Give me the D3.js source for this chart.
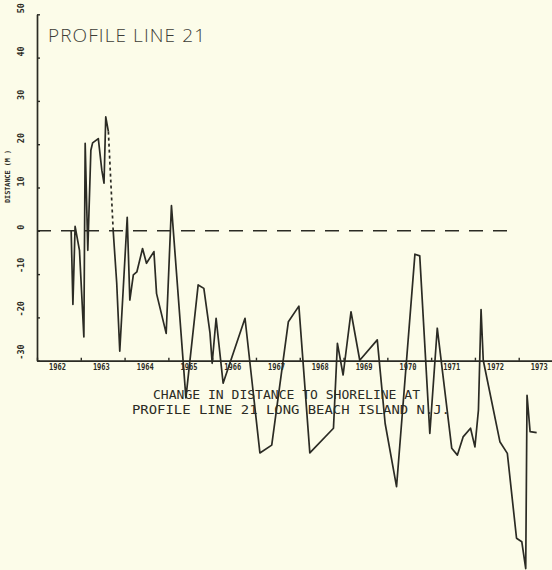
<!DOCTYPE html>
<html>
<head>
<meta charset="utf-8">
<script src="https://cdn.jsdelivr.net/npm/d3@7"></script>
<style>
  html, body { margin: 0; padding: 0; background: #fcfce9; }
  svg { display: block; }
</style>
</head>
<body>
<script>
var svgWidth = 552;
var svgHeight = 570;

// survey dates (decimal years) and change in distance to shoreline (m)
var years = [1962.78, 1962.82, 1962.87, 1962.97, 1963.07, 1963.10, 1963.16, 1963.23, 1963.27, 1963.40,
    1963.48, 1963.53, 1963.57, 1963.63, 1963.74, 1963.82, 1963.89, 1964.06, 1964.12, 1964.20,
    1964.28, 1964.41, 1964.50, 1964.67, 1964.73, 1964.95, 1965.07, 1965.40, 1965.68, 1965.81,
    1965.95, 1966.00, 1966.09, 1966.25, 1966.75, 1967.09, 1967.36, 1967.74, 1967.98, 1968.23,
    1968.77, 1968.86, 1968.99, 1969.17, 1969.37, 1969.77, 1969.95, 1970.21, 1970.63, 1970.74,
    1970.97, 1971.14, 1971.47, 1971.60, 1971.73, 1971.90, 1972.00, 1972.08, 1972.14, 1972.19,
    1972.57, 1972.74, 1972.95, 1973.07, 1973.16, 1973.19, 1973.26, 1973.41];
var distances = [0, -17, 1, -4.5, -24.5, 20.2, -4.5, 18.6, 20.3, 21.3,
    14, 11, 26.3, 22.9, 0, -12, -27.8, 3.1, -16, -10.2,
    -9.5, -4.1, -7.5, -4.8, -14.5, -23.7, 5.8, -38.6, -12.5, -13.3,
    -23.6, -30.6, -20.2, -35.2, -20.2, -51.3, -49.5, -21, -17.4, -51.3,
    -45.6, -26, -33.3, -18.7, -29.9, -25.2, -44.5, -59.1, -5.4, -5.8,
    -46.8, -22.5, -50.2, -51.8, -47.6, -45.6, -49.9, -41.4, -18.2, -29.9,
    -48.7, -51.4, -71, -71.8, -78, -38, -46.4, -46.6];
// the link between these two points is drawn dotted in the original plot
var dottedFrom = 13;

var yTicks = [50, 40, 30, 20, 10, 0, -10, -20, -30];
var yearTicks = [1962, 1963, 1964, 1965, 1966, 1967, 1968, 1969, 1970, 1971, 1972, 1973];
var yearLabels = ["1962", "1963", "1964", "1965", "1966", "1967", "1968", "1969", "1970", "1971", "1972", "1973"];

var titleText = "PROFILE LINE 21";
var yLabelText = "DISTANCE (M )";
var caption1 = "CHANGE IN DISTANCE TO SHORELINE AT";
var caption2 = "PROFILE LINE 21 LONG BEACH ISLAND N.J.";

var ink = "#2b2b24";

var x = d3.scaleLinear().domain([1962, 1973.76]).range([37, 552]);
var y = d3.scaleLinear().domain([-30, 50]).range([360.7, 14.3]);

var svg = d3.select("body")
    .append("svg")
    .attr("width", svgWidth)
    .attr("height", svgHeight);

// y axis
var yAxis = svg.append("g")
    .attr("transform", "translate(" + x(1962) + ",0)")
    .call(d3.axisLeft(y).tickValues(yTicks).tickSize(-3).tickSizeOuter(0).tickFormat(""));
yAxis.select(".domain").attr("stroke", ink).attr("stroke-width", 1.7);
yAxis.selectAll(".tick line").attr("stroke", ink).attr("stroke-width", 1.4);

// x axis at the bottom of the value range
var xAxis = svg.append("g")
    .attr("transform", "translate(0," + y(-30) + ")")
    .call(d3.axisBottom(x).tickValues(yearTicks).tickSize(-3).tickSizeOuter(0).tickFormat(""));
xAxis.select(".domain").attr("stroke", ink).attr("stroke-width", 1.7);
xAxis.selectAll(".tick line").attr("stroke", ink).attr("stroke-width", 1.4);

// year labels, centred in each year
svg.selectAll("text.year")
    .data(yearTicks)
    .enter()
    .append("text")
    .attr("class", "year")
    .text(function (d, i) { return yearLabels[i]; })
    .attr("x", function (d) { return x(d + 0.47); })
    .attr("y", y(-30) + 9.5)
    .attr("text-anchor", "middle")
    .attr("font-family", "DejaVu Sans Mono")
    .attr("font-weight", "bold")
    .attr("font-size", "8.5px")
    .attr("textLength", 17)
    .attr("lengthAdjust", "spacingAndGlyphs")
    .attr("fill", ink);

// y tick labels, rotated
svg.selectAll("text.ytick")
    .data(yTicks)
    .enter()
    .append("text")
    .attr("class", "ytick")
    .text(function (d) { return d; })
    .attr("transform", function (d) { return "translate(24," + (y(d) - 1) + ") rotate(-90)"; })
    .attr("text-anchor", "start")
    .attr("font-family", "DejaVu Sans Mono")
    .attr("font-weight", "bold")
    .attr("font-size", "8.5px")
    .attr("fill", ink);

svg.append("text")
    .text(yLabelText)
    .attr("transform", "translate(10,203) rotate(-90)")
    .attr("text-anchor", "start")
    .attr("font-family", "DejaVu Sans Mono")
    .attr("font-weight", "bold")
    .attr("font-size", "7px")
    .attr("textLength", 53)
    .attr("lengthAdjust", "spacingAndGlyphs")
    .attr("fill", ink);

// zero reference line
svg.append("line")
    .attr("x1", x(1962))
    .attr("x2", 510)
    .attr("y1", y(0))
    .attr("y2", y(0))
    .attr("stroke", ink)
    .attr("stroke-width", 1.5)
    .attr("stroke-dasharray", "14,10");

var pts = years.map(function (d, i) { return [d, distances[i]]; });
var line = d3.line()
    .x(function (d) { return x(d[0]); })
    .y(function (d) { return y(d[1]); });

svg.append("path")
    .attr("d", line(pts.slice(0, dottedFrom + 1)))
    .attr("fill", "none")
    .attr("stroke", ink)
    .attr("stroke-width", 1.7)
    .attr("stroke-linejoin", "round");

svg.append("path")
    .attr("d", line(pts.slice(dottedFrom, dottedFrom + 2)))
    .attr("fill", "none")
    .attr("stroke", ink)
    .attr("stroke-width", 1.7)
    .attr("stroke-dasharray", "3,3");

svg.append("path")
    .attr("d", line(pts.slice(dottedFrom + 1)))
    .attr("fill", "none")
    .attr("stroke", ink)
    .attr("stroke-width", 1.7)
    .attr("stroke-linejoin", "round");

// title
svg.append("text")
    .text(titleText)
    .attr("x", 48)
    .attr("y", 42)
    .attr("font-family", "Open Sans")
    .attr("font-weight", 300)
    .attr("font-size", "19px")
    .attr("textLength", 157)
    .attr("lengthAdjust", "spacing")
    .attr("fill", "#3c3c36");

// caption
svg.append("text")
    .text(caption1)
    .attr("x", 153)
    .attr("y", 399)
    .attr("font-family", "DejaVu Sans Mono")
    .attr("font-size", "13px")
    .attr("textLength", 267)
    .attr("lengthAdjust", "spacingAndGlyphs")
    .attr("fill", ink);

svg.append("text")
    .text(caption2)
    .attr("x", 132)
    .attr("y", 414)
    .attr("font-family", "DejaVu Sans Mono")
    .attr("font-size", "13px")
    .attr("textLength", 318)
    .attr("lengthAdjust", "spacingAndGlyphs")
    .attr("fill", ink);
</script>
</body>
</html>
